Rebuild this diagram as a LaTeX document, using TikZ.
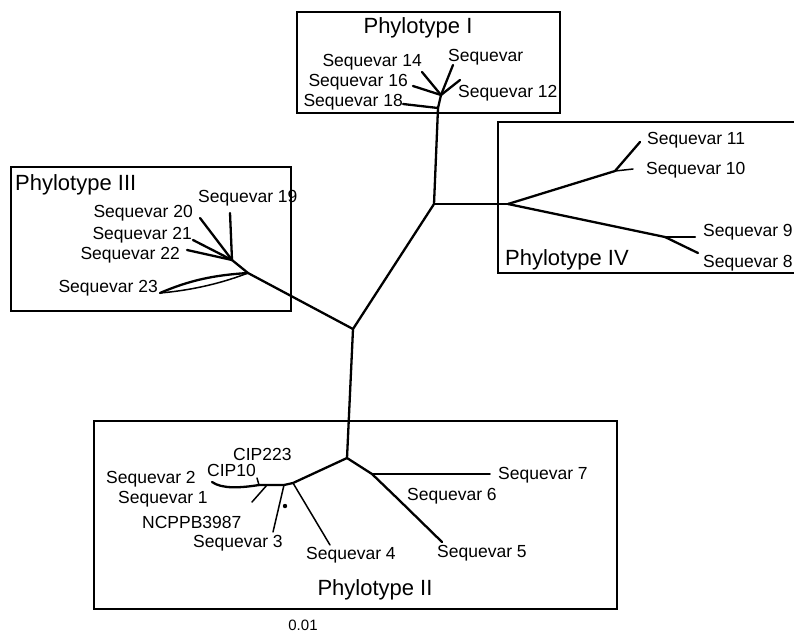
\documentclass[tikz,border=0pt]{standalone}
\usepackage{fontspec}
\setmainfont{Liberation Sans}
\begin{document}
\begin{tikzpicture}[x=1pt,y=-1pt,
  br/.style={line width=2.3pt, line cap=round, line join=round},
  tbr/.style={line width=1.5pt, line cap=round, line join=round},
  gbox/.style={draw, line width=1.6pt},
  lab/.style={inner sep=0pt, font=\fontsize{17.5}{20}\selectfont},
  plab/.style={inner sep=0pt, font=\fontsize{22}{26}\selectfont}]
\useasboundingbox (0,0) rectangle (794,638);
% group boxes
\draw[gbox] (297,12) rectangle (560,113);
\draw[gbox] (498,122) rectangle (805,273);
\draw[gbox] (11,167) rectangle (291,311);
\draw[gbox] (94,421) rectangle (617,609);
% group labels
\node[plab] (lI) at (418,28) {Phylotype I};
\node[plab, anchor=west] (lIV) at (505,260) {Phylotype IV};
\node[plab, anchor=west] (lIII) at (15,185) {Phylotype III};
\node[plab] (lII) at (375,590) {Phylotype II};
\node[lab, font=\fontsize{15}{18}\selectfont] (scale) at (303,625) {0.01};
% internal coordinates
\coordinate (c1) at (353,329);
\coordinate (c2) at (434,204);
\coordinate (p1a) at (438,108);
\coordinate (p1b) at (441,95);
\coordinate (p4) at (508,204);
\coordinate (p4a) at (615,171);
\coordinate (p4b) at (665,237);
\coordinate (p3a) at (248,273);
\coordinate (p3b) at (232,260);
\coordinate (p2) at (347,458);
\coordinate (p2a) at (293,483);
\coordinate (p2b) at (372,474);
\coordinate (p2c) at (398,499);
\coordinate (p2d) at (284,485);
\coordinate (p2e) at (267,485);
\coordinate (p2f) at (259,485);
% leaves
\coordinate (s18) at (403,104);
\coordinate (s16) at (413,86);
\coordinate (s14) at (422,72);
\coordinate (s13) at (453,65);
\coordinate (s12) at (460,80);
\coordinate (s11) at (640,142);
\coordinate (s10) at (633,169);
\coordinate (s9) at (695,237);
\coordinate (s8) at (698,253);
\coordinate (s19) at (230,213);
\coordinate (s20) at (200,218);
\coordinate (s21) at (193,240);
\coordinate (s22) at (187,250);
\coordinate (s23) at (160,293);
\coordinate (s7) at (490,474);
\coordinate (s5) at (442,542);
\coordinate (s4) at (330,545);
\coordinate (s3) at (273,532);
\coordinate (s1) at (252,502);
\coordinate (cip10) at (257,478);
\coordinate (s2) at (212,482);
% backbone
\draw[br] (p1a) -- (c2) -- (c1) -- (p2);
\draw[br] (c2) -- (p4);
\draw[br] (c1) -- (p3a) -- (p3b);
% Phylotype I
\draw[br] (p1a) -- (p1b);
\draw[br] (p1a) -- (s18);
\draw[br] (p1b) -- (s16);
\draw[br] (p1b) -- (s14);
\draw[br] (p1b) -- (s13);
\draw[br] (p1b) -- (s12);
% Phylotype IV
\draw[br] (p4) -- (p4a);
\draw[br] (p4a) -- (s11);
\draw[tbr] (p4a) -- (s10);
\draw[br] (p4) -- (p4b) -- (s8);
\draw[br] (p4b) -- (s9);
% Phylotype III
\draw[br] (p3b) -- (s19);
\draw[br] (p3b) -- (s20);
\draw[br] (p3b) -- (s21);
\draw[br] (p3b) -- (s22);
\draw[br] (p3a) .. controls (215,275) and (190,280) .. (s23);
\draw[tbr] (p3a) .. controls (225,282) and (195,290) .. (s23);
% Phylotype II
\draw[br] (p2) -- (p2a) -- (p2d) -- (p2e) -- (p2f);
\draw[br] (p2f) .. controls (240,488) and (222,489) .. (s2);
\draw[tbr] (p2f) -- (cip10);
\draw[tbr] (p2e) -- (s1);
\draw[tbr] (p2d) -- (s3);
\draw[tbr] (p2a) -- (s4);
\draw[br] (p2) -- (p2b) -- (p2c) -- (s5);
\draw[tbr] (p2b) -- (s7);
\fill (285,506) circle (2.2pt);
% leaf labels
\node[lab, anchor=east] (t18) at (403,102) {Sequevar 18};
\node[lab, anchor=east] (t16) at (408,82) {Sequevar 16};
\node[lab, anchor=east] (t14) at (422,62) {Sequevar 14};
\node[lab, anchor=west] (t13) at (448,57) {Sequevar};
\node[lab, anchor=west] (t12) at (458,93) {Sequevar 12};
\node[lab, anchor=west] (t11) at (647,140) {Sequevar 11};
\node[lab, anchor=west] (t10) at (646,170) {Sequevar 10};
\node[lab, anchor=west] (t9) at (703,232) {Sequevar 9};
\node[lab, anchor=west] (t8) at (703,263) {Sequevar 8};
\node[lab, anchor=west] (t19) at (198,198) {Sequevar 19};
\node[lab, anchor=east] (t20) at (193,213) {Sequevar 20};
\node[lab, anchor=east] (t21) at (192,235) {Sequevar 21};
\node[lab, anchor=east] (t22) at (180,255) {Sequevar 22};
\node[lab, anchor=east] (t23) at (158,288) {Sequevar 23};
\node[lab, anchor=west] (t7) at (498,475) {Sequevar 7};
\node[lab, anchor=west] (t6) at (407,496) {Sequevar 6};
\node[lab, anchor=west] (t5) at (437,553) {Sequevar 5};
\node[lab, anchor=west] (t4) at (306,555) {Sequevar 4};
\node[lab, anchor=west] (t3) at (193,543) {Sequevar 3};
\node[lab, anchor=west] (tn) at (142,522) {NCPPB3987};
\node[lab, anchor=west] (t1) at (118,499) {Sequevar 1};
\node[lab, anchor=west] (t2) at (106,479) {Sequevar 2};
\node[lab, anchor=west] (tc10) at (207,470) {CIP10};
\node[lab, anchor=west] (tc223) at (233,454) {CIP223};
\end{tikzpicture}
\end{document}
